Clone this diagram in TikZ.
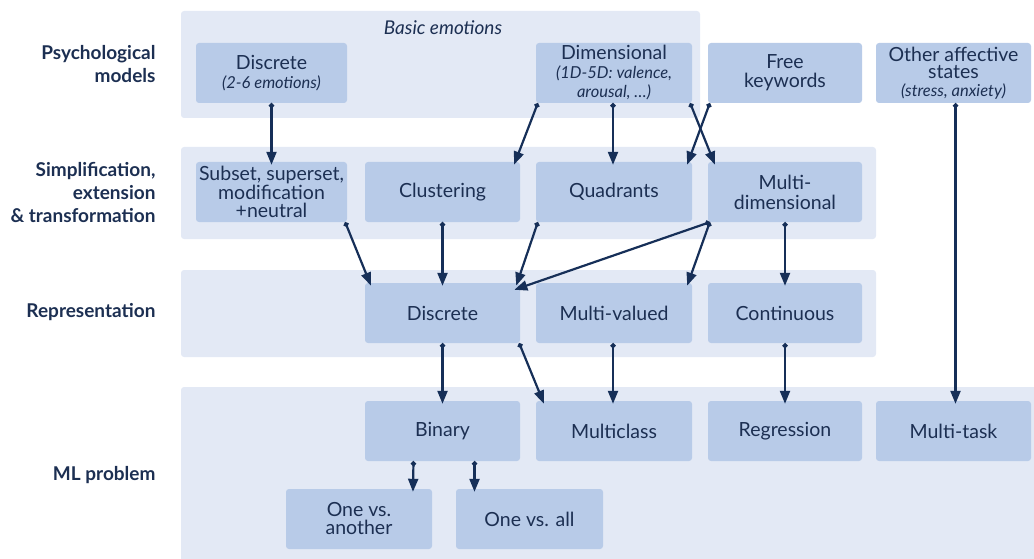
\documentclass[tikz,border=0pt]{standalone}
\usepackage{fontspec}
\setmainfont{Lato}
\usetikzlibrary{arrows.meta}
\definecolor{bandc}{RGB}{227,233,245}
\definecolor{boxc}{RGB}{184,203,232}
\definecolor{ink}{RGB}{28,47,82}
\definecolor{arrc}{RGB}{22,47,88}
\newcommand{\sm}[1]{{\itshape\fontsize{16.5}{17}\selectfont #1}}
\newcommand{\bx}[7][]{\node[box, minimum width={#5-#3}, minimum height={#6-#4}, #1] (#2) at ({(#3+#5)/2},{(#4+#6)/2}) {#7};}
\begin{document}
\begin{tikzpicture}[x=1pt,y=-1pt,
  bandst/.style={fill=bandc, rounded corners=3pt},
  box/.style={fill=boxc, rounded corners=3pt, text=ink, align=center, font=\fontsize{19.5}{19}\selectfont, inner sep=0pt},
  lbl/.style={text=ink, align=right, anchor=east, font=\fontsize{19}{23}\selectfont\bfseries},
  conn/.style={arrc, line width=2.2pt, {Circle[length=5pt]}-{Triangle[length=13pt,width=10pt]}, shorten >=-3pt}
]
\clip (0,0) rectangle (1034,559);
% bands
\path[bandst] (181,11) rectangle (700,118);
\path[bandst] (181,147) rectangle (876,239);
\path[bandst] (181,270) rectangle (876,357);
\path[bandst] (181,387) rectangle (1045,570);
% row labels
\node[lbl] (l1) at (159,64) {Psychological\\models};
\node[lbl] (l2) at (159,192) {Simplification,\\extension\\\& transformation};
\node[lbl] (l3) at (159,312) {Representation};
\node[lbl] (l4) at (159,475) {ML problem};
\node[text=ink, font=\itshape\fontsize{19}{20}\selectfont] (be) at (443,28) {Basic emotions};
% row 1
\bx{pdisc}{196}{43}{347}{103}{Discrete\\\sm{(2-6 emotions)}}
\bx{dim}{536}{43}{692}{103}{Dimensional\\\sm{(1D-5D: valence,}\\\sm{arousal, \dots)}}
\bx{fk}{708}{43}{862}{103}{Free\\keywords}
\bx[font=\fontsize{19.5}{17.5}\selectfont]{oas}{876}{43}{1031}{103}{Other affective\\states\\\sm{(stress, anxiety)}}
% row 2
\bx[font=\fontsize{19.5}{17.5}\selectfont]{sub}{196}{162}{347}{222}{Subset, superset,\\modification\\+neutral}
\bx{clu}{365}{162}{520}{222}{Clustering}
\bx{quad}{536}{162}{692}{222}{Quadrants}
\bx[font=\fontsize{19.5}{20}\selectfont]{md}{708}{162}{862}{222}{Multi-\\dimensional}
% row 3
\bx{disc}{365}{283}{520}{343}{Discrete}
\bx{mv}{536}{283}{692}{343}{Multi-valued}
\bx{cont}{708}{283}{862}{343}{Continuous}
% row 4
\bx{bin}{365}{401}{520}{461}{Binary}
\bx{mc}{536}{401}{692}{461}{Multiclass}
\bx{reg}{708}{401}{862}{461}{Regression}
\bx{mt}{876}{401}{1031}{461}{Multi-task}
% row 5
\bx[font=\fontsize{19.5}{18}\selectfont]{ova}{286}{489}{432}{549}{One vs.\\another}
\bx{oall}{456}{489}{603}{549}{One vs. all}
% connectors
\draw[conn] (pdisc.south) -- (sub.north);
\draw[conn] ([xshift=2pt]dim.south west) -- ([xshift=-5pt]clu.north east);
\draw[conn] ([xshift=-1pt]dim.south) -- ([xshift=-1pt]quad.north);
\draw[conn] ([xshift=-2pt]dim.south east) -- ([xshift=6pt]md.north west);
\draw[conn] ([xshift=2pt]fk.south west) -- ([xshift=-4pt]quad.north east);
\draw[conn] ([xshift=2pt]oas.south) -- ([xshift=2pt]mt.north);
\draw[conn] ([xshift=-2pt]sub.south east) -- ([xshift=5pt]disc.north west);
\draw[conn] (clu.south) -- (disc.north);
\draw[conn] ([xshift=2pt]quad.south west) -- ([xshift=-3pt]disc.north east);
\draw[conn] ([xshift=2pt]md.south west) -- ([xshift=-3pt,yshift=-6pt]disc.north east);
\draw[conn] ([xshift=2pt]md.south west) -- ([xshift=-4pt]mv.north east);
\draw[conn] (md.south) -- (cont.north);
\draw[conn] (disc.south) -- (bin.north);
\draw[conn] ([xshift=-1pt]disc.south east) -- ([xshift=7pt]mc.north west);
\draw[conn] ([xshift=-1pt]mv.south) -- ([xshift=-1pt]mc.north);
\draw[conn] (cont.south) -- (reg.north);
\draw[conn] ([xshift=-29pt]bin.south) -- ([xshift=54pt]ova.north);
\draw[conn] ([xshift=32pt]bin.south) -- ([xshift=-55pt]oall.north);
\end{tikzpicture}
\end{document}
